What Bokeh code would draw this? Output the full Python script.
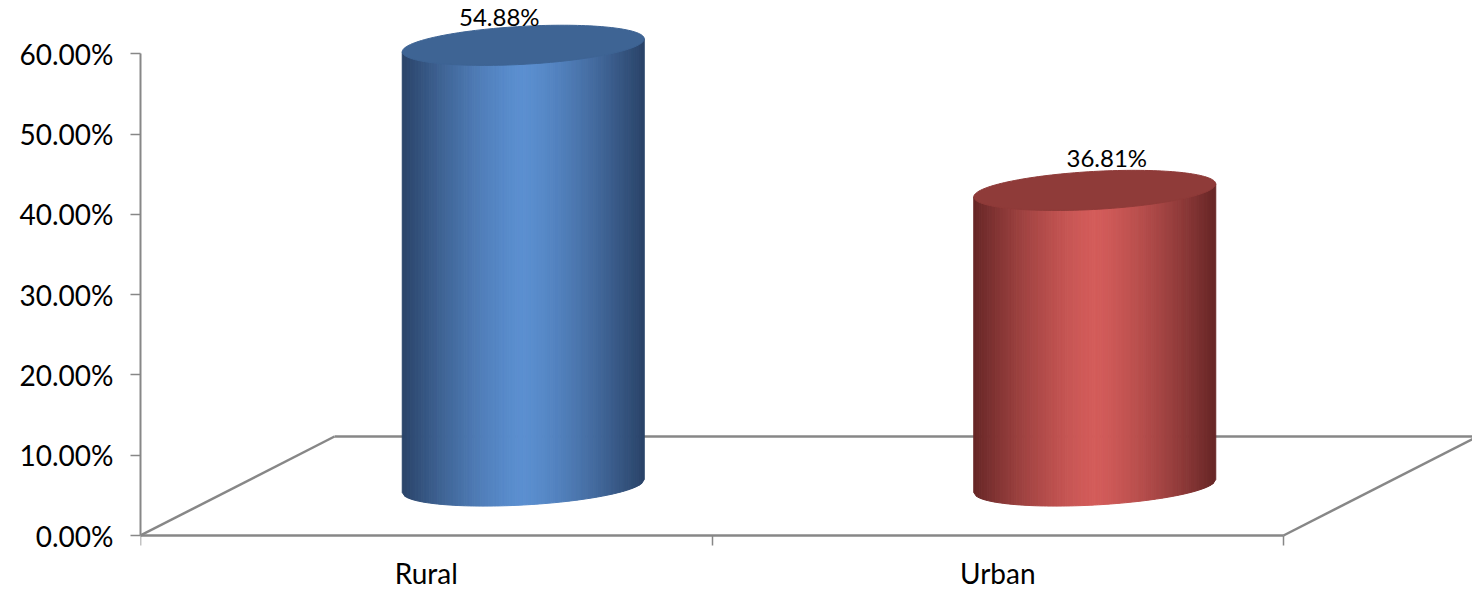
import numpy as np
from bokeh.plotting import figure
from bokeh.models import Range1d, FixedTicker, PrintfTickFormatter, ColumnDataSource
from bokeh.embed import file_html
from bokeh.resources import INLINE
from bokeh.core.properties import value

# ---- data ----
categories = ["Rural", "Urban"]
shares = [54.88, 36.81]
label_texts = ["54.88%", "36.81%"]
y_ticks = [0, 10, 20, 30, 40, 50, 60]

# ---- styles ----
body_dark = [(0x24, 0x3a, 0x5c), (0x5a, 0x20, 0x20)]
body_light = [(0x5b, 0x8f, 0xd0), (0xd3, 0x5c, 0x5a)]
top_fill = ["#3e6494", "#8f3b39"]
label_dx = [-24, 12]
label_dy = [-29, -33]
GRAY = "#878787"
FONT = "Lato"

W, H = 1472, 592
PX_X = 571.5   # px per category unit
PX_Y = 8.03    # px per percent
LEFT = 140
BASE = 535

p = figure(width=W, height=H, output_backend="svg", toolbar_location=None,
           x_range=Range1d(0, (W - LEFT) / PX_X),
           y_range=Range1d(-(H - BASE) / PX_Y, BASE / PX_Y),
           min_border_left=LEFT, min_border_right=0, min_border_top=0, min_border_bottom=0)
p.outline_line_color = None
p.xgrid.visible = False
p.ygrid.visible = False
p.background_fill_color = "white"

n = len(categories)
depth_x = 194 / PX_X
depth_y = 99 / PX_Y

# floor
p.multi_line(xs=[[0, depth_x], [depth_x, n + depth_x], [n, n + depth_x]],
             ys=[[0, depth_y], [depth_y, depth_y], [0, depth_y]],
             line_color=GRAY, line_width=2.5)

# cylinders
a = 121 / PX_X
b = 19 / PX_Y
shear = 6.5 / PX_Y
base_c = depth_y / 2
N = 90
sx, sy, sc = [], [], []
tx, ty, tc = [], [], []
for i, v in enumerate(shares):
    cx = i + 0.5 + depth_x / 2
    top = base_c + v
    edges = np.linspace(-1, 1, N + 1)
    for k in range(N):
        u0, u1 = edges[k], edges[k + 1]
        um = 0.5 * (u0 + u1)
        g = 1 - 0.9 * abs(um) ** 1.4
        col = tuple(int(round(d + (l - d) * g)) for d, l in zip(body_dark[i], body_light[i]))
        hexc = "#%02x%02x%02x" % col
        yb0 = base_c + shear * u0 - b * np.sqrt(max(0.0, 1 - u0 ** 2))
        yb1 = base_c + shear * u1 - b * np.sqrt(max(0.0, 1 - u1 ** 2))
        yt0 = top + shear * u0
        yt1 = top + shear * u1
        sx.append([cx + a * u0, cx + a * u1, cx + a * u1, cx + a * u0])
        sy.append([yb0, yb1, yt1, yt0])
        sc.append(hexc)
    t = np.linspace(0, 2 * np.pi, 160)
    tx.append(list(cx + a * np.cos(t)))
    ty.append(list(top + shear * np.cos(t) + b * np.sin(t)))
    tc.append(top_fill[i])

p.patches(xs="xs", ys="ys", fill_color="c", line_color="c", line_width=1,
          source=ColumnDataSource(dict(xs=sx, ys=sy, c=sc)))
p.patches(xs="xs", ys="ys", fill_color="c", line_color="c", line_width=1,
          source=ColumnDataSource(dict(xs=tx, ys=ty, c=tc)))

# value labels
lx = [i + 0.5 + depth_x / 2 for i in range(n)]
ly = [base_c + v for v in shares]
for i in range(n):
    p.text(x=[lx[i]], y=[ly[i]], text=[label_texts[i]], x_offset=label_dx[i], y_offset=label_dy[i],
           text_align="center", text_baseline="middle", text_font=value(FONT),
           text_font_size="24px", text_color="black")

# y axis
yax = p.yaxis[0]
yax.ticker = FixedTicker(ticks=y_ticks)
yax.formatter = PrintfTickFormatter(format="%.2f%%")
yax.bounds = (y_ticks[0], y_ticks[-1])
yax.axis_line_color = GRAY
yax.axis_line_width = 2
yax.major_tick_line_color = GRAY
yax.major_tick_line_width = 1.5
yax.major_tick_out = 10
yax.major_tick_in = 0
yax.minor_tick_line_color = None
yax.major_label_standoff = 17
yax.major_label_text_font = FONT
yax.major_label_text_font_size = "28px"
yax.major_label_text_color = "black"

# x axis
xax = p.xaxis[0]
xax.fixed_location = 0
xax.ticker = FixedTicker(ticks=[i + 0.5 for i in range(n)], minor_ticks=list(range(n + 1)))
xax.major_label_overrides = {i + 0.5: c for i, c in enumerate(categories)}
xax.bounds = (0, n)
xax.axis_line_color = GRAY
xax.axis_line_width = 2.5
xax.major_tick_line_color = None
xax.major_tick_out = 0
xax.major_tick_in = 0
xax.minor_tick_line_color = GRAY
xax.minor_tick_line_width = 1.5
xax.minor_tick_out = 10
xax.minor_tick_in = 0
xax.major_label_standoff = 10
xax.major_label_text_font = FONT
xax.major_label_text_font_size = "28px"
xax.major_label_text_color = "black"

open("out.html", "w").write(file_html(p, INLINE))
